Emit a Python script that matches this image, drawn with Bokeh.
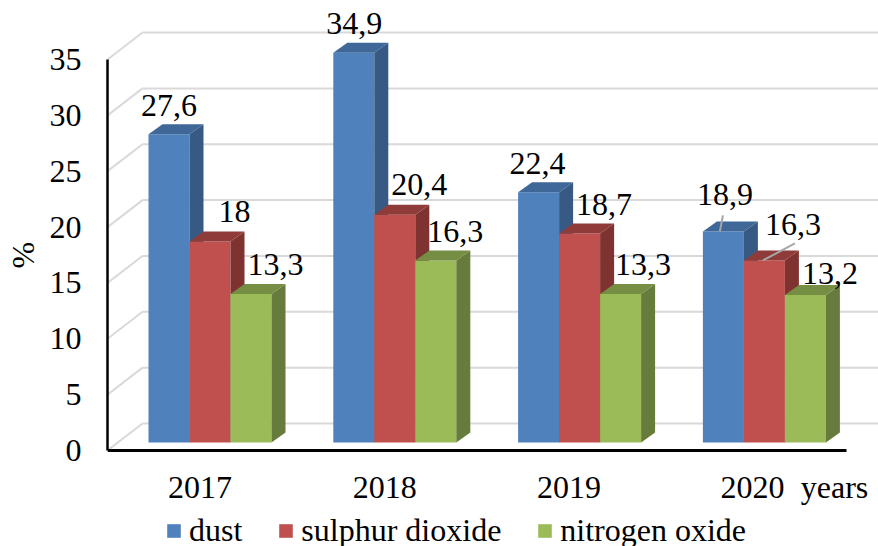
from bokeh.plotting import figure
from bokeh.embed import file_html
from bokeh.resources import INLINE
from bokeh.core.properties import value
from bokeh.models import (ColumnDataSource, Range1d, LinearAxis, FixedTicker, Legend,
                          LegendItem, Title)

years = ["2017", "2018", "2019", "2020"]
x_unit = "years"
dust = [27.6, 34.9, 22.4, 18.9]
sulphur_dioxide = [18, 20.4, 18.7, 16.3]
nitrogen_oxide = [13.3, 16.3, 13.3, 13.2]
series_names = ["dust", "sulphur dioxide", "nitrogen oxide"]
y_ticks = [0, 5, 10, 15, 20, 25, 30, 35]
y_title = "%"

FONT = "Liberation Serif"
FS = "32px"
W, H = 878, 546
FL, FB = 107, 450      # frame left / axis line in page pixels
XS, YS = 184.8, 11.17  # pixels per group / per percent
BASE_X, BASE_Y = 209.5, 442.0
BW = 41 / XS
DX, DY = 14 / XS, 10 / YS

def px_x(v):
    return (v - BASE_X) / XS

def px_y(v):
    return (BASE_Y - v) / YS

p = figure(width=W, height=H, frame_width=W - FL, frame_height=H,
           output_backend="svg", toolbar_location=None,
           x_range=Range1d(px_x(FL), px_x(W)), y_range=Range1d(px_y(H), px_y(0)),
           min_border_left=FL, min_border_right=0, min_border_top=0, min_border_bottom=0,
           x_axis_type=None, y_axis_type=None, outline_line_color=None)
p.grid.visible = False

# walls
wall_left, wall_right = px_x(142), px_x(W)
front_left = px_x(107)
wall_dy = (450 - 423) / YS
plane_y0 = px_y(FB)
for t in y_ticks:
    y_back = plane_y0 + wall_dy + t
    p.line([front_left, wall_left], [plane_y0 + t, y_back], line_color="#d9d9d9", line_width=2)
    p.line([wall_left, wall_right], [y_back, y_back], line_color="#d9d9d9", line_width=2)

colors = ["#4f81bd", "#c0504d", "#9bbb59"]
tops = ["#3f6797", "#8f3b39", "#768e44"]
sides = ["#375a84", "#7f3331", "#677c3c"]
all_series = [dust, sulphur_dioxide, nitrogen_oxide]
legend_items = []
for k, vals in enumerate(all_series):
    offs = (k - 1.5) * BW
    x0 = [i + offs for i in range(4)]
    x1 = [a + BW for a in x0]
    r = p.quad(left=x0, right=x1, bottom=[0] * 4, top=vals, fill_color=colors[k], line_color=None)
    p.patches([[b, b + DX, b + DX, b] for b in x1],
              [[0, DY, v + DY, v] for v in vals], fill_color=sides[k], line_color=None)
    p.patches([[a, a + DX, b + DX, b] for a, b in zip(x0, x1)],
              [[v, v + DY, v + DY, v] for v in vals], fill_color=tops[k], line_color=None)
    legend_items.append(LegendItem(label=series_names[k], renderers=[r]))

# data labels: pixel nudges from each bar's front-top-centre
nudge_x = [[0, 0.5, -1, 1.5], [24.5, 24.5, 24.5, 28.5], [24.5, 19.5, 22.5, 24.5]]
nudge_y = [[29, 29, 29, 37], [30, 30, 29, 36], [29, 29, 29, 22]]
for k, vals in enumerate(all_series):
    offs = (k - 1) * BW
    src = ColumnDataSource(dict(x=[i + offs for i in range(4)], y=vals,
                                t=[f"{v:g}".replace(".", ",") for v in vals],
                                xo=nudge_x[k], yo=[-n for n in nudge_y[k]]))
    p.text(x="x", y="y", text="t", source=src, x_offset="xo", y_offset="yo",
           text_font=value(FONT), text_font_size=value(FS), text_color="#000000",
           text_align="center", text_baseline="middle")

# leader lines of the 2020 labels
p.segment(x0=[3 - BW - 3.5 / XS, 3 - 1.5 / XS], y0=[dust[3], sulphur_dioxide[3]],
          x1=[3 - BW - 0.5 / XS, 3 + 30.5 / XS],
          y1=[dust[3] + 16 / YS, sulphur_dioxide[3] + 17 / YS],
          line_color="#a6a6a6", line_width=2)

p.extra_y_ranges = {"axis": Range1d((FB - H) / YS, FB / YS)}
yax = LinearAxis(y_range_name="axis", ticker=FixedTicker(ticks=y_ticks), bounds=(0, 35),
                 axis_line_color="#000000", axis_line_width=2.5,
                 major_tick_line_color=None, minor_tick_line_color=None,
                 major_tick_out=0, major_tick_in=0,
                 major_label_text_font=FONT, major_label_text_font_size=FS,
                 major_label_text_color="#000000", major_label_standoff=26)
p.add_layout(yax, "left")
p.add_layout(Title(text=y_title, align="left", offset=H - 268, standoff=8, vertical_align="top",
                   text_font=FONT, text_font_size=FS, text_font_style="normal",
                   text_color="#000000"), "left")

tick_nudge = [-10, -10, -10.5, -12]
tick_pos = [i + n / XS for i, n in enumerate(tick_nudge)] + [px_x(834)]
xax = LinearAxis(ticker=FixedTicker(ticks=tick_pos), fixed_location=px_y(FB),
                 major_label_overrides={t: s for t, s in zip(tick_pos, years + [x_unit])},
                 bounds=(px_x(FL), px_x(846)), axis_line_color="#000000", axis_line_width=3,
                 major_tick_line_color=None, minor_tick_line_color=None,
                 major_tick_out=0, major_tick_in=0,
                 major_label_text_font=FONT, major_label_text_font_size=FS,
                 major_label_text_color="#000000", major_label_standoff=18)
p.add_layout(xax, "below")

legend = Legend(items=legend_items, orientation="horizontal", location=(58, -3),
                border_line_color=None, background_fill_alpha=0, margin=0, padding=0,
                glyph_width=17, glyph_height=17, label_standoff=7, spacing=35,
                label_text_font=FONT, label_text_font_size=FS, label_text_color="#000000",
                label_height=30)
p.add_layout(legend)

open("out.html", "w").write(file_html(p, INLINE))
